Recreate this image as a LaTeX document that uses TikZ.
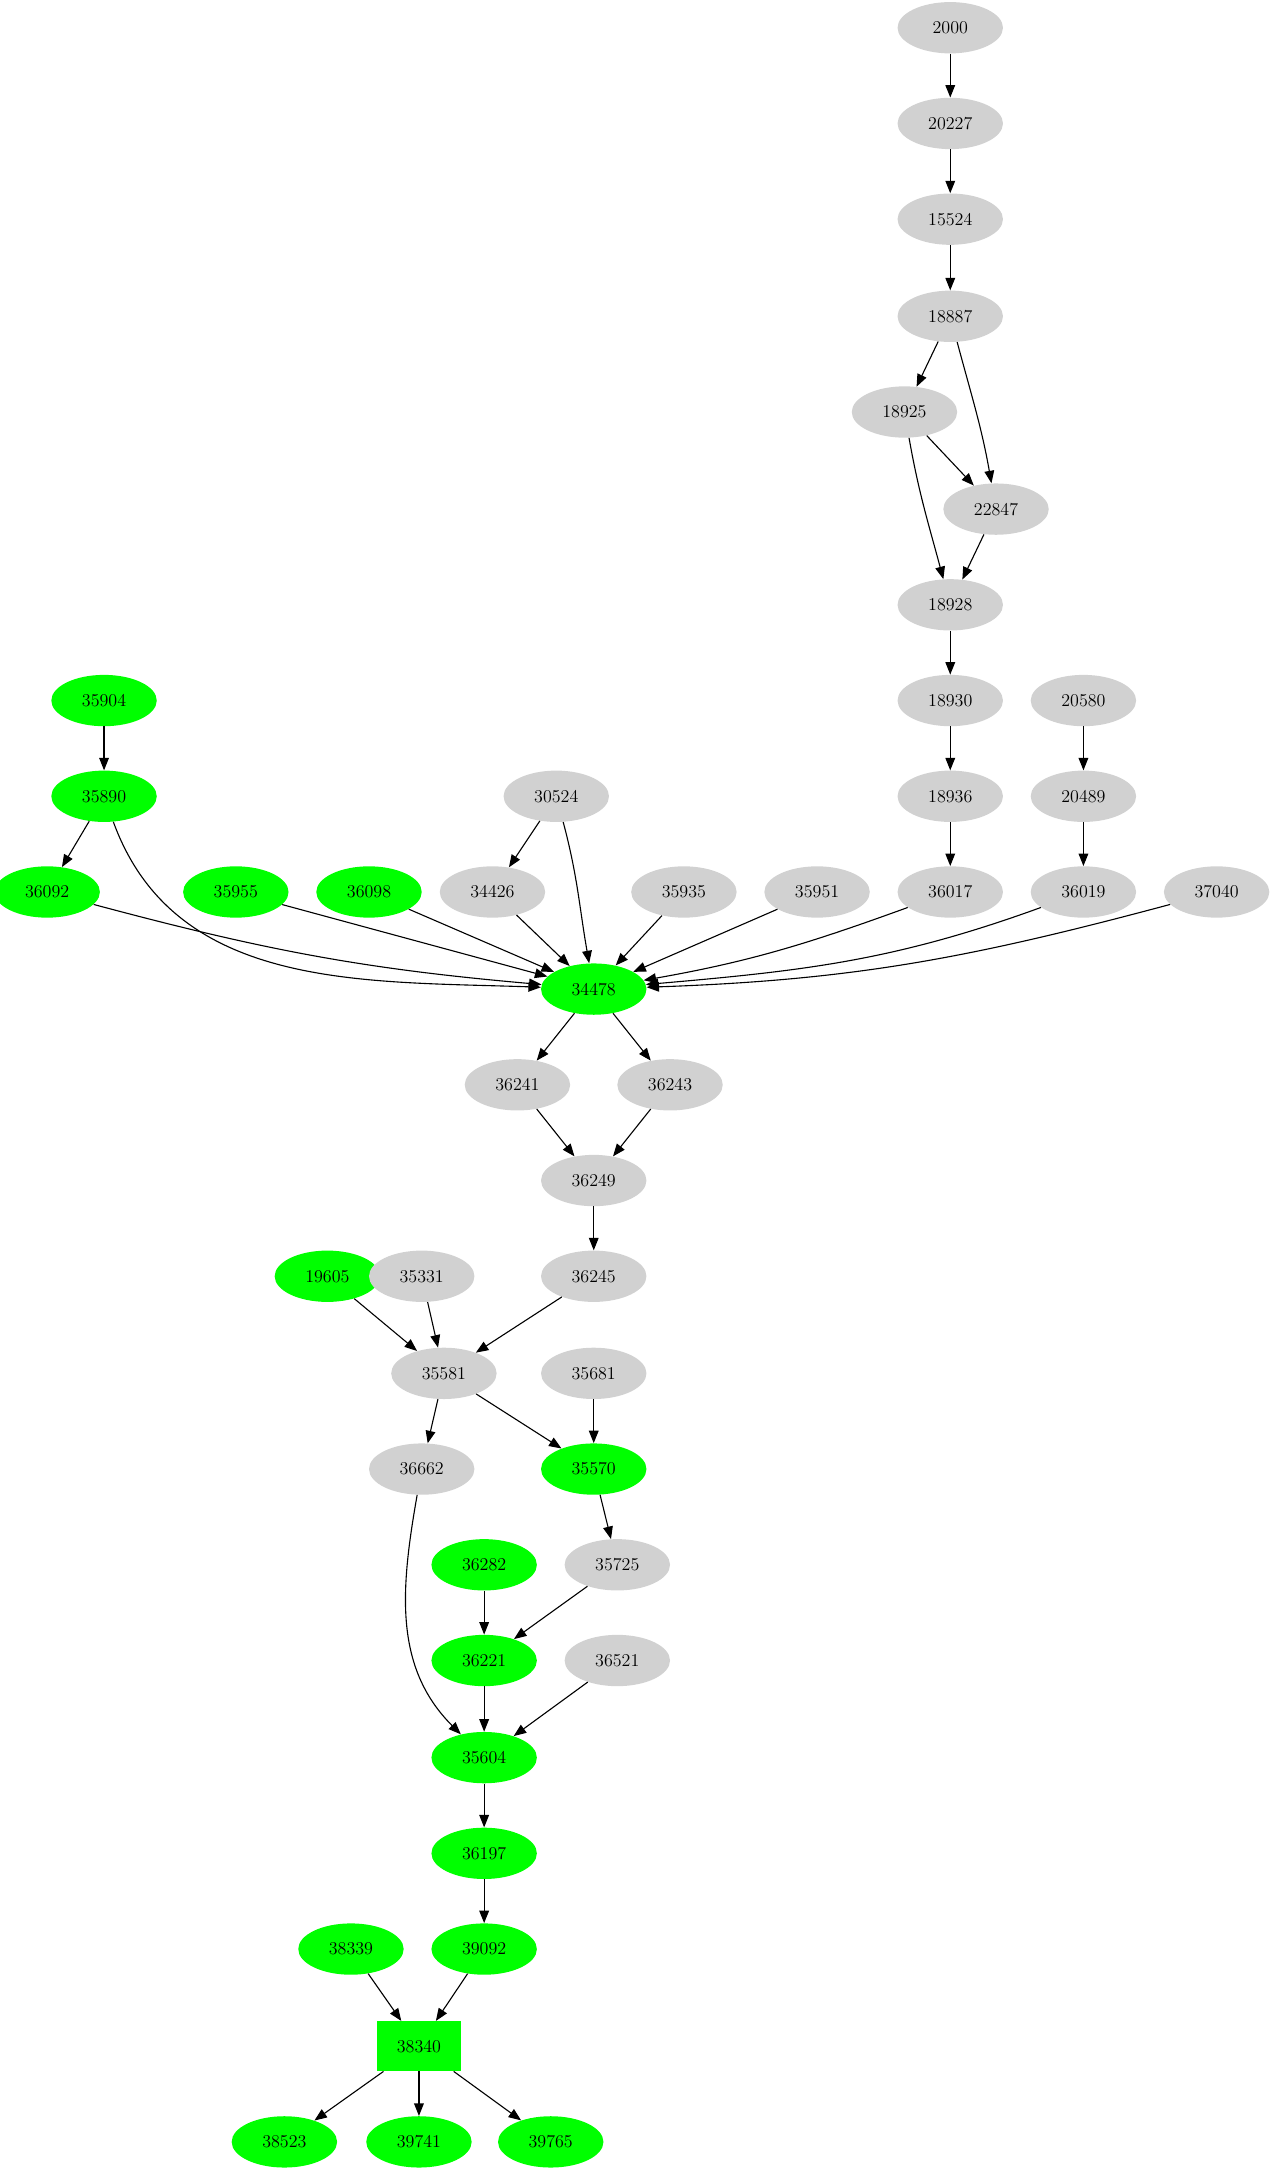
\documentclass[tikz,border=0pt]{standalone}
\usetikzlibrary{arrows.meta,shapes.geometric}
\begin{document}
\begin{tikzpicture}[x=1pt,y=-1pt,
 g/.style={ellipse,fill=black!18,minimum width=76pt,minimum height=37pt,inner sep=0pt,font=\fontsize{13}{15}\selectfont},
 gr/.style={g,fill=green},
 e/.style={-{Triangle[length=9pt,width=7pt]},line width=0.8pt}]
\useasboundingbox (0,0) rectangle (918,1565);
\node[g] (n2000) at (685,20) {2000};
\node[g] (n20227) at (685,89) {20227};
\node[g] (n15524) at (685,158) {15524};
\node[g] (n18887) at (685,228) {18887};
\node[g] (n18925) at (652,297) {18925};
\node[g] (n22847) at (718,367) {22847};
\node[g] (n18928) at (685,436) {18928};
\node[g] (n18930) at (685,505) {18930};
\node[g] (n20580) at (781,505) {20580};
\node[g] (n18936) at (685,574) {18936};
\node[g] (n20489) at (781,574) {20489};
\node[gr] (n35904) at (75,505) {35904};
\node[gr] (n35890) at (75,574) {35890};
\node[g] (n30524) at (401,574) {30524};
\node[gr] (n36092) at (34,643) {36092};
\node[gr] (n35955) at (170,643) {35955};
\node[gr] (n36098) at (266,643) {36098};
\node[g] (n34426) at (355,643) {34426};
\node[g] (n35935) at (493,643) {35935};
\node[g] (n35951) at (589,643) {35951};
\node[g] (n36017) at (685,643) {36017};
\node[g] (n36019) at (781,643) {36019};
\node[g] (n37040) at (877,643) {37040};
\node[gr] (n34478) at (428,713) {34478};
\node[g] (n36241) at (373,782) {36241};
\node[g] (n36243) at (483,782) {36243};
\node[g] (n36249) at (428,851) {36249};
\node[gr] (n19605) at (236,920) {19605};
\node[g] (n35331) at (304,920) {35331};
\node[g] (n36245) at (428,920) {36245};
\node[g] (n35581) at (320,990) {35581};
\node[g] (n35681) at (428,990) {35681};
\node[g] (n36662) at (304,1059) {36662};
\node[gr] (n35570) at (428,1059) {35570};
\node[gr] (n36282) at (349,1128) {36282};
\node[g] (n35725) at (445,1128) {35725};
\node[gr] (n36221) at (349,1197) {36221};
\node[g] (n36521) at (445,1197) {36521};
\node[gr] (n35604) at (349,1267) {35604};
\node[gr] (n36197) at (349,1336) {36197};
\node[gr] (n38339) at (253,1405) {38339};
\node[gr] (n39092) at (349,1405) {39092};
\node[rectangle,fill=green,minimum width=60pt,minimum height=36pt,font=\fontsize{13}{15}\selectfont] (n38340) at (302,1475) {38340};
\node[gr] (n38523) at (205,1544) {38523};
\node[gr] (n39741) at (302,1544) {39741};
\node[gr] (n39765) at (397,1544) {39765};
\draw[e] (n2000)--(n20227);
\draw[e] (n20227)--(n15524);
\draw[e] (n15524)--(n18887);
\draw[e] (n18887)--(n18925);
\draw[e] (n18887) to[out=-75,in=100] (n22847);
\draw[e] (n18925)--(n22847);
\draw[e] (n18925) to[out=-80,in=105] (n18928);
\draw[e] (n22847)--(n18928);
\draw[e] (n18928)--(n18930);
\draw[e] (n18930)--(n18936);
\draw[e] (n20580)--(n20489);
\draw[e] (n18936)--(n36017);
\draw[e] (n20489)--(n36019);
\draw[e] (n35904)--(n35890);
\draw[e] (n35890)--(n36092);
\draw[e] (n35890) to[out=-70,in=178] (n34478);
\draw[e] (n36092) to[out=-15,in=175] (n34478);
\draw[e] (n35955)--(n34478);
\draw[e] (n36098)--(n34478);
\draw[e] (n30524)--(n34426);
\draw[e] (n30524) to[out=-75,in=100] (n34478);
\draw[e] (n34426)--(n34478);
\draw[e] (n35935)--(n34478);
\draw[e] (n35951)--(n34478);
\draw[e] (n36017) to[out=-160,in=10] (n34478);
\draw[e] (n36019) to[out=-160,in=5] (n34478);
\draw[e] (n37040) to[out=-165,in=2] (n34478);
\draw[e] (n34478)--(n36241);
\draw[e] (n34478)--(n36243);
\draw[e] (n36241)--(n36249);
\draw[e] (n36243)--(n36249);
\draw[e] (n36249)--(n36245);
\draw[e] (n19605)--(n35581);
\draw[e] (n35331)--(n35581);
\draw[e] (n36245)--(n35581);
\draw[e] (n35581)--(n36662);
\draw[e] (n35581)--(n35570);
\draw[e] (n35681)--(n35570);
\draw[e] (n35570)--(n35725);
\draw[e] (n36282)--(n36221);
\draw[e] (n35725)--(n36221);
\draw[e] (n36662) to[out=-100,in=135] (n35604);
\draw[e] (n36221)--(n35604);
\draw[e] (n36521)--(n35604);
\draw[e] (n35604)--(n36197);
\draw[e] (n36197)--(n39092);
\draw[e] (n38339)--(n38340);
\draw[e] (n39092)--(n38340);
\draw[e] (n38340)--(n38523);
\draw[e] (n38340)--(n39741);
\draw[e] (n38340)--(n39765);
\end{tikzpicture}
\end{document}
